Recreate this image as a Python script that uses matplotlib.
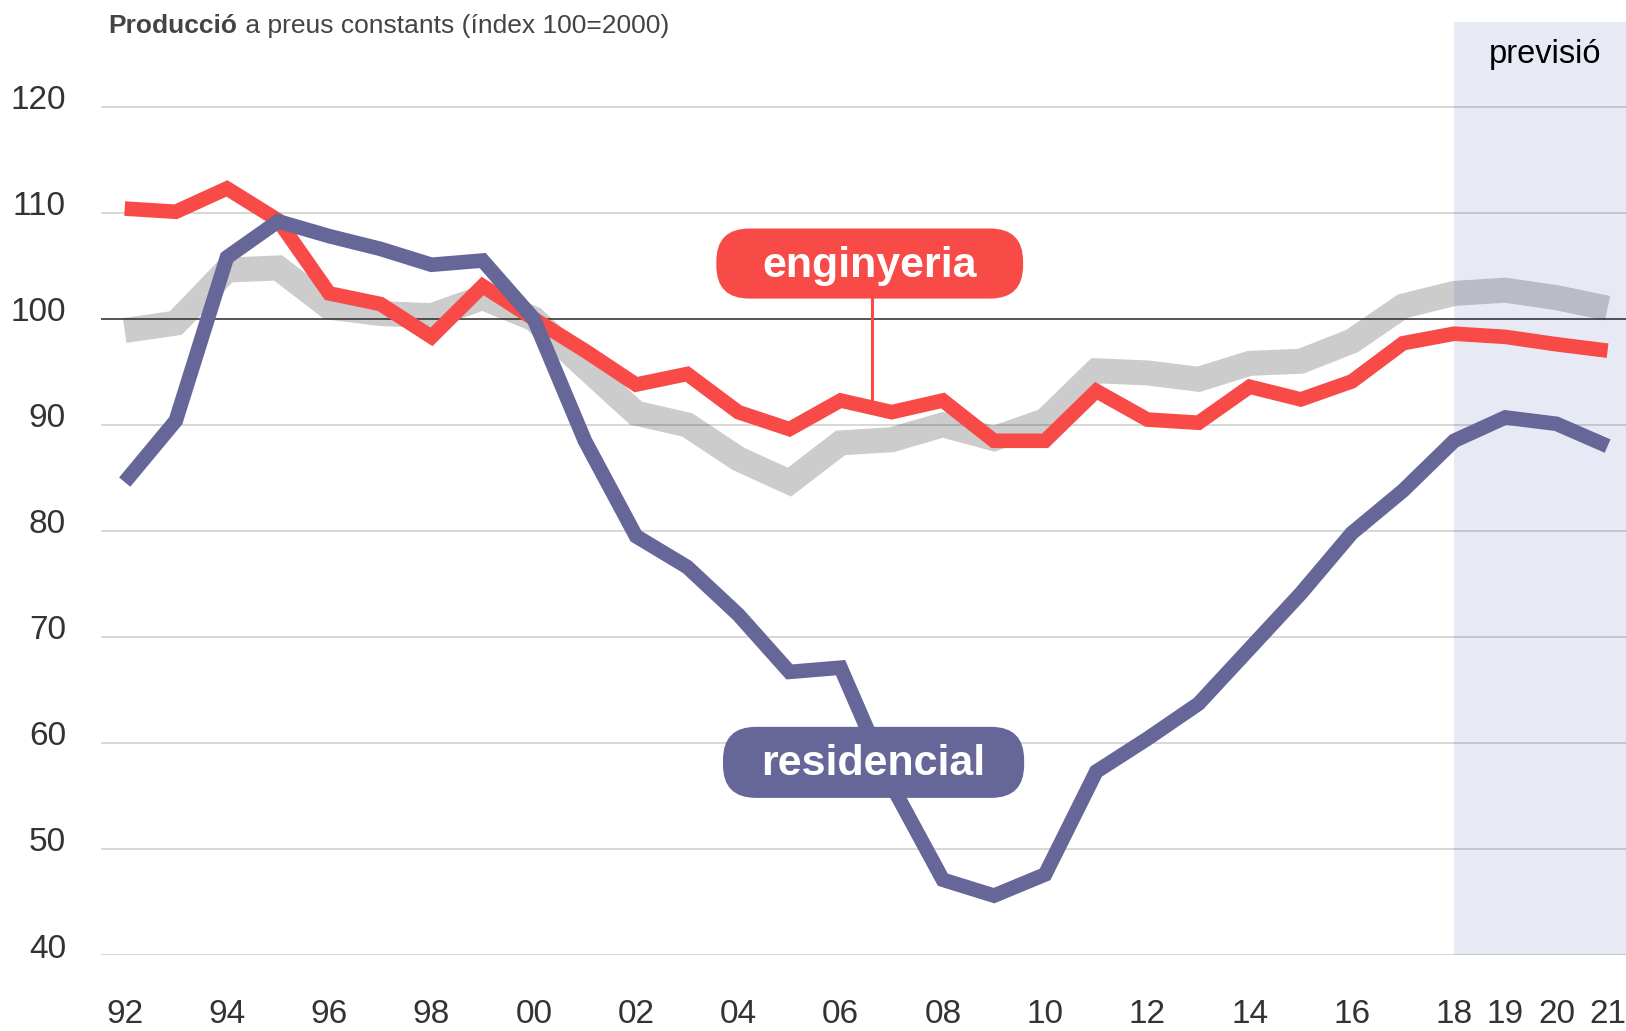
import numpy as np
import matplotlib
matplotlib.use("Agg")
import matplotlib.pyplot as plt
import matplotlib.transforms as mtransforms
from matplotlib.patches import FancyBboxPatch

plt.rcParams["font.family"] = ["Liberation Sans", "DejaVu Sans"]

# anys 1992-2021
years = np.arange(1992, 2022)

# índex 100 = 2000
residencial = [84.6, 90.4, 105.8, 109.2, 107.8, 106.6, 105.1, 105.5, 100.0, 88.5,
               79.5, 76.6, 72.1, 66.7, 67.1, 56.0, 47.1, 45.6, 47.6, 57.3,
               60.4, 63.7, 68.9, 74.1, 79.8, 83.8, 88.5, 90.7, 90.1, 88.0]
enginyeria = [110.4, 110.1, 112.3, 109.3, 102.4, 101.4, 98.3, 103.1, 100.0, 97.0,
              93.8, 94.8, 91.2, 89.6, 92.3, 91.2, 92.3, 88.5, 88.5, 93.2,
              90.5, 90.2, 93.6, 92.4, 94.1, 97.7, 98.6, 98.3, 97.6, 97.0]
total = [98.9, 99.6, 104.6, 104.8, 101.1, 100.5, 100.3, 102.0, 100.0, 95.5,
         91.1, 90.0, 86.8, 84.6, 88.3, 88.6, 90.0, 88.7, 90.4, 95.1,
         94.9, 94.3, 95.8, 96.0, 97.9, 101.2, 102.4, 102.7, 102.0, 101.0]

xtick_pos = [1992, 1994, 1996, 1998, 2000, 2002, 2004, 2006, 2008, 2010,
             2012, 2014, 2016, 2018, 2019, 2020, 2021]
xtick_lab = ["92", "94", "96", "98", "00", "02", "04", "06", "08", "10",
             "12", "14", "16", "18", "19", "20", "21"]
ytick_pos = [40, 50, 60, 70, 80, 90, 100, 110, 120]

previsio_inici = 2018

RED = "#F84B48"
PURPLE = "#666699"
GREY = "#CCCCCC"

fig = plt.figure(figsize=(16.26, 10.31), dpi=100)
ax = fig.add_axes([0.0619, 0.0737, 0.9381, 0.905])

# línia gris (total)
ax.plot(years, total, color=GREY, lw=18, solid_capstyle="butt",
        solid_joinstyle="miter", zorder=1)

# zona de previsió
ax.axvspan(previsio_inici, 2022, color=(25/255, 55/255, 155/255), alpha=0.1,
           lw=0, zorder=1.5)

ax.plot(years, enginyeria, color=RED, lw=10.5, solid_capstyle="butt",
        solid_joinstyle="miter", zorder=4)
ax.plot(years, residencial, color=PURPLE, lw=10.5, solid_capstyle="butt",
        solid_joinstyle="miter", zorder=4)

ax.axhline(100, color="#333333", lw=1.1, zorder=2.7)

ax.set_xlim(1991.53, 2021.36)
ax.set_ylim(40, 128)

ax.set_axisbelow(False)
ax.yaxis.grid(True, color="black", alpha=0.2, lw=1.1)
ax.set_yticks(ytick_pos)
ax.set_xticks(xtick_pos)
ax.set_xticklabels(xtick_lab)
ax.tick_params(axis="both", length=0, labelsize=24, labelcolor="#333333")
ax.tick_params(axis="y", pad=25)
ax.tick_params(axis="x", pad=32)
for s in ax.spines.values():
    s.set_visible(False)

# etiquetes de l'eix y una mica per sobre de la línia
offset = mtransforms.ScaledTranslation(0, 0.095, fig.dpi_scale_trans)
for lab in ax.get_yticklabels():
    lab.set_transform(lab.get_transform() + offset)

# etiquetes de sèrie
rx, ry = 0.645, 3.11


def etiqueta(x0, x1, y0, y1, text, color):
    box = FancyBboxPatch((x0, y0), x1 - x0, y1 - y0,
                         boxstyle="round,pad=0,rounding_size=%f" % rx,
                         mutation_aspect=ry / rx, fc=color, ec="none",
                         zorder=6)
    ax.add_patch(box)
    ax.text((x0 + x1) / 2, (y0 + y1) / 2 - 0.2, text, color="white",
            fontsize=31, fontweight="bold", ha="center", va="center",
            zorder=7)


etiqueta(2003.57, 2009.57, 101.91, 108.52, "enginyeria", RED)
etiqueta(2003.70, 2009.59, 54.82, 61.52, "residencial", PURPLE)

# línia d'unió de l'etiqueta enginyeria
xc = 2006.62
ax.plot([xc, xc], [np.interp(xc, years, enginyeria), 101.91], color=RED,
        lw=2.2, zorder=5)

ax.text(2019.78, 124.1, "previsió", fontsize=23.5, color="black",
        ha="center", va="baseline")

# títol
t1 = fig.text(0.0668, 0.968, "Producció", fontsize=19, fontweight="bold",
              color="#444444", va="baseline")
fig.canvas.draw()
bb = t1.get_window_extent(renderer=fig.canvas.get_renderer())
fig.text(bb.x1 / fig.bbox.width, 0.968, " a preus constants (índex 100=2000)",
         fontsize=19, color="#444444", va="baseline")

fig.savefig("out.png", dpi=100)
